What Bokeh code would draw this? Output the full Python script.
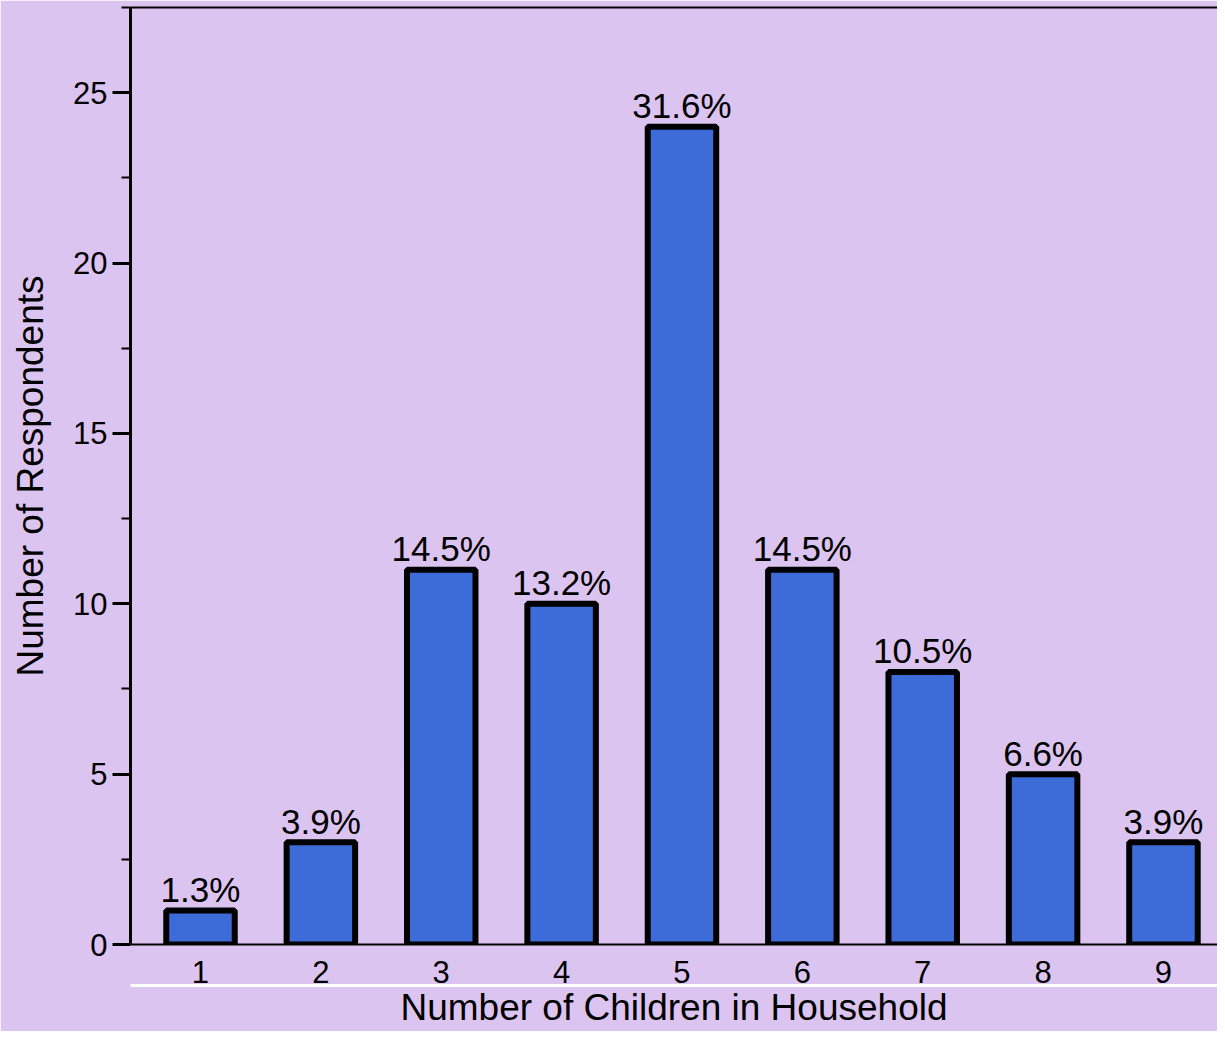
from bokeh.plotting import figure
from bokeh.models import ColumnDataSource, Range1d, LinearAxis, FixedTicker
from bokeh.core.properties import value
from bokeh.embed import file_html
from bokeh.resources import INLINE

# ---- data ----
children = [1, 2, 3, 4, 5, 6, 7, 8, 9]
respondents = [1, 3, 11, 10, 24, 11, 8, 5, 3]
pct_labels = ["1.3%", "3.9%", "14.5%", "13.2%", "31.6%", "14.5%", "10.5%", "6.6%", "3.9%"]
y_ticks = [0, 5, 10, 15, 20, 25]

BG = "#dcc4f1"
BAR = "#3d6bd7"
FONT = "Liberation Sans"

src = ColumnDataSource(dict(x=children, top=respondents, lab=pct_labels))

p = figure(width=1217, height=1031,
           x_range=Range1d(0.4185, 9.449), y_range=Range1d(0, 27.5),
           output_backend="svg", toolbar_location=None,
           min_border_left=130, min_border_right=0, min_border_top=7,
           min_border_bottom=87)

p.background_fill_color = BG
p.border_fill_color = BG
p.outline_line_color = None
p.xgrid.visible = False
p.ygrid.visible = False

p.vbar(x="x", top="top", bottom=0, width=0.569, source=src,
       fill_color=BAR, line_color="black", line_width=6)

p.text(x="x", y="top", text="lab", source=src,
       text_align="center", text_baseline="alphabetic", y_offset=-21,
       text_font=value(FONT), text_font_size="35px", text_color="black")

# y axis
ya = p.yaxis[0]
ya.ticker = FixedTicker(ticks=y_ticks, minor_ticks=[v + 2.5 for v in y_ticks])
ya.axis_line_width = 3
ya.axis_line_color = "black"
ya.major_tick_line_width = 3
ya.minor_tick_line_width = 2
ya.major_tick_line_color = "black"
ya.minor_tick_line_color = "black"
ya.major_tick_out = 18
ya.major_tick_in = 0
ya.minor_tick_out = 9
ya.minor_tick_in = 0
ya.major_label_standoff = 5
ya.major_label_text_font = FONT
ya.major_label_text_font_size = "31px"
ya.major_label_text_color = "black"
ya.axis_label = "Number of Respondents"
ya.axis_label_text_font = FONT
ya.axis_label_text_font_size = "37px"
ya.axis_label_text_font_style = "normal"
ya.axis_label_text_color = "black"
ya.axis_label_standoff = 19

# x axis (tick labels only)
xa = p.xaxis[0]
xa.ticker = FixedTicker(ticks=children)
xa.axis_line_width = 2
xa.axis_line_color = "black"
xa.major_tick_out = 0
xa.major_tick_in = 0
xa.minor_tick_out = 0
xa.minor_tick_in = 0
xa.major_label_standoff = 16
xa.major_label_text_font = FONT
xa.major_label_text_font_size = "31px"
xa.major_label_text_color = "black"

# second bottom axis: white separator line + axis title
xb = LinearAxis(ticker=FixedTicker(ticks=[]), major_label_text_font_size="0px",
                major_tick_out=0, major_tick_in=0, minor_tick_out=0, minor_tick_in=0,
                major_label_standoff=0, axis_line_color="white", axis_line_width=3,
                axis_label="Number of Children in Household",
                axis_label_text_font=FONT, axis_label_text_font_size="37px",
                axis_label_text_font_style="normal", axis_label_text_color="black",
                axis_label_text_line_height=0.6,
                axis_label_standoff=1)
p.add_layout(xb, "below")

# top border line
top = LinearAxis(ticker=FixedTicker(ticks=[]), major_label_text_font_size="0px",
                 major_tick_out=0, major_tick_in=0, minor_tick_out=0, minor_tick_in=0,
                 major_label_standoff=0, axis_line_width=2, axis_line_color="black")
p.add_layout(top, "above")

open("out.html", "w").write(file_html(p, INLINE))
